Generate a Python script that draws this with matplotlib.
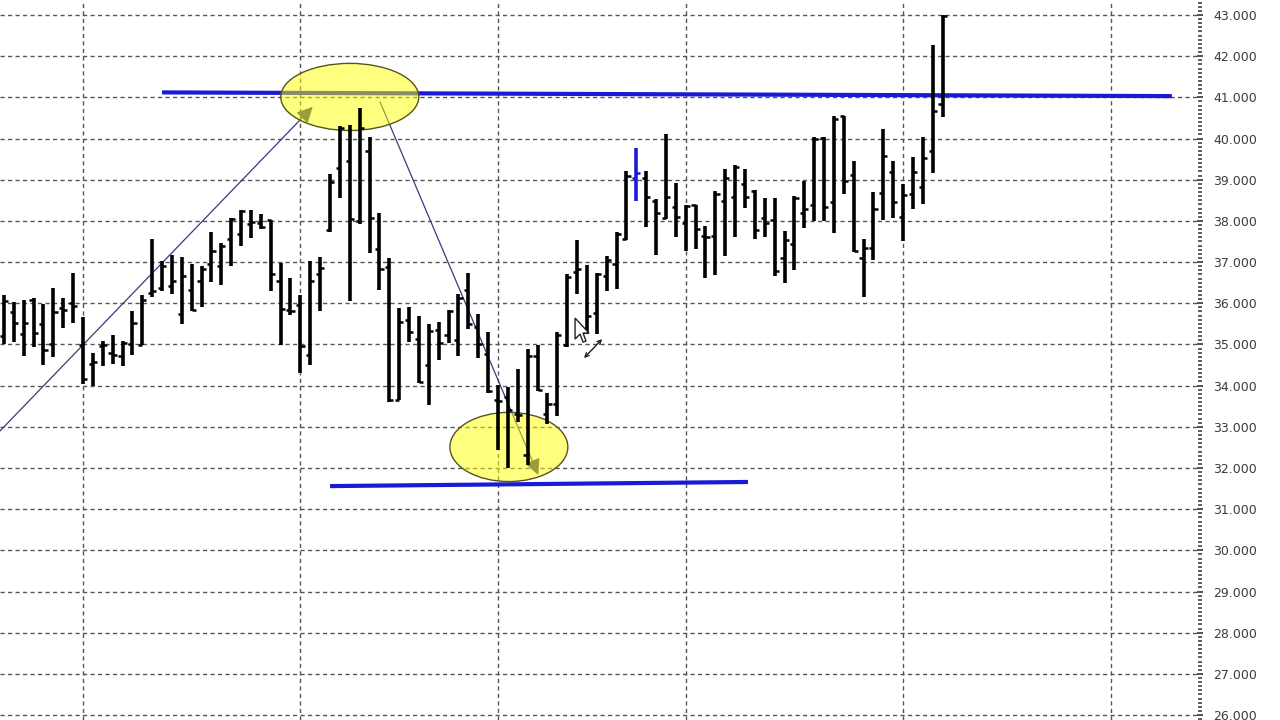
import numpy as np
import matplotlib
matplotlib.use("Agg")
import matplotlib.pyplot as plt
import matplotlib.transforms as mtransforms
from matplotlib.patches import Ellipse, Polygon, FancyArrowPatch
from matplotlib.ticker import FixedLocator, MultipleLocator, FormatStrFormatter

# daily bars (price units)
opens = [35.21, 35.78, 35.25, 36.08, 35.49, 35.02, 35.88, 36.00, 34.98, 34.53,
         34.96, 34.78, 34.73, 35.02, 34.98, 36.24, 36.38, 36.43, 35.73, 36.33,
         36.55, 36.96, 36.90, 37.55, 37.69, 37.93, 37.96, 38.02, 36.55, 35.84,
         35.96, 34.75, 36.72, 37.77, 39.29, 39.45, 38.00, 39.69, 37.31, 36.87,
         33.66, 35.60, 35.14, 34.49, 35.34, 35.22, 35.11, 36.31, 35.42, 34.77,
         33.65, 33.73, 33.32, 32.31, 34.73, 33.32, 33.55, 34.98, 36.77, 35.29,
         35.77, 36.66, 36.95, 37.55, 39.04, 39.04, 38.49, 38.08, 38.34, 37.96,
         38.39, 37.64, 37.64, 38.49, 38.57, 38.89, 38.73, 38.06, 38.02, 37.11,
         37.45, 38.20, 38.38, 40.02, 38.47, 40.55, 39.11, 37.09, 37.35, 38.68,
         39.19, 38.09, 38.66, 38.82, 39.70, 40.83]
highs = [36.20, 36.02, 36.08, 36.12, 35.98, 36.38, 36.12, 36.73, 35.67, 34.78,
         35.08, 35.22, 35.08, 35.81, 36.19, 37.55, 37.02, 37.17, 37.12, 36.96,
         36.90, 37.74, 37.47, 38.07, 38.26, 38.26, 38.16, 38.02, 36.98, 36.61,
         36.20, 37.02, 37.12, 39.15, 40.30, 40.34, 40.74, 40.03, 38.20, 37.10,
         35.89, 35.90, 35.70, 35.50, 35.54, 35.84, 36.23, 36.73, 35.74, 35.30,
         34.01, 33.97, 34.41, 34.90, 34.98, 33.81, 35.30, 36.71, 37.53, 36.93,
         36.74, 37.15, 37.72, 39.21, 39.77, 39.21, 38.53, 40.12, 38.91, 38.39,
         38.39, 37.88, 38.73, 39.26, 39.36, 39.26, 38.74, 38.55, 38.55, 37.75,
         38.60, 38.98, 40.04, 40.04, 40.55, 40.55, 39.45, 37.55, 38.71, 40.22,
         39.45, 38.90, 39.55, 40.04, 42.27, 43.00]
lows = [35.02, 35.06, 34.73, 34.94, 34.49, 34.69, 35.41, 35.51, 34.04, 33.98,
        34.47, 34.53, 34.47, 34.75, 34.98, 36.16, 36.30, 36.22, 35.49, 35.81,
        35.92, 36.51, 36.45, 36.90, 37.39, 37.58, 37.80, 36.30, 34.98, 35.71,
        34.31, 34.49, 35.82, 37.74, 38.56, 36.06, 37.92, 37.21, 36.31, 33.60,
        33.65, 35.06, 34.06, 33.52, 34.61, 35.03, 34.73, 35.38, 34.68, 33.81,
        32.44, 31.99, 33.12, 32.07, 33.87, 33.08, 33.26, 34.94, 36.23, 35.25,
        35.25, 36.30, 36.34, 37.53, 38.49, 37.85, 37.17, 38.04, 37.61, 37.27,
        37.31, 36.62, 36.69, 37.15, 37.61, 38.31, 37.55, 37.61, 36.66, 36.50,
        36.80, 37.82, 38.00, 38.00, 37.71, 38.66, 37.25, 36.15, 37.06, 38.01,
        38.06, 37.51, 38.30, 38.42, 39.17, 40.52]
closes = [36.06, 35.51, 35.51, 35.27, 34.86, 35.78, 35.84, 35.94, 34.16, 34.57,
          34.98, 34.75, 35.04, 35.51, 36.08, 36.29, 36.90, 36.55, 36.65, 35.84,
          36.82, 37.27, 37.39, 38.04, 38.23, 37.98, 37.84, 36.71, 35.86, 35.81,
          34.96, 36.53, 36.86, 38.95, 40.26, 38.04, 40.26, 38.08, 36.83, 33.65,
          35.54, 35.30, 34.09, 35.32, 35.03, 35.82, 36.13, 35.50, 35.02, 33.87,
          33.63, 33.40, 33.28, 34.73, 33.89, 33.56, 35.22, 36.63, 36.83, 35.69,
          36.70, 37.04, 37.68, 39.09, 39.17, 38.58, 38.20, 38.58, 38.10, 38.36,
          37.80, 37.61, 38.65, 39.04, 39.30, 38.57, 37.77, 37.94, 36.79, 37.53,
          38.55, 38.30, 39.98, 38.34, 40.47, 38.98, 37.27, 37.35, 38.28, 39.57,
          38.47, 38.64, 39.19, 39.53, 40.68, 42.98]
highlighted_bar = 64          # the one bar drawn in blue
month_starts = [8, 30, 50, 69, 91, 112]
price_ticks = list(range(26, 44))

# drawn objects on the chart (bar index, price)
resistance = ([16.0, 118.2], [41.12, 41.03])
support = ([33.0, 75.3], [31.56, 31.66])
top_circle = (35.0, 41.01, 13.97, 1.63)
bottom_circle = (51.1, 32.51, 11.94, 1.68)
arrow_up = ((-1.0, 32.75), (31.25, 40.77))
arrow_down = ((38.06, 40.89), (54.08, 31.83))
cursor_at = (57.8, 35.64)

BLUE = "#1a1ad6"
NAVY = "#3a3a7a"

fig = plt.figure(figsize=(12.8, 7.2), dpi=100)
ax = fig.add_axes([0, 0, 1200 / 1280, 1])
ax.set_xlim(-0.4, 121.05)
ax.set_ylim(25.88, 43.364)

# grid
ax.xaxis.set_major_locator(FixedLocator(month_starts))
ax.yaxis.set_major_locator(FixedLocator(price_ticks))
ax.yaxis.set_minor_locator(MultipleLocator(0.1))
ax.grid(True, which="major", color="#555555", linestyle=(0, (3, 2.4)), linewidth=1.0, zorder=0)
ax.set_axisbelow(True)
for s in ax.spines.values():
    s.set_visible(False)
ax.tick_params(axis="x", length=0, labelbottom=False)
ax.yaxis.tick_right()
ax.yaxis.set_major_formatter(FormatStrFormatter("%.3f"))
ax.tick_params(axis="y", which="major", direction="inout", length=5, width=1.2,
               color="#333333", pad=7, labelsize=9, labelcolor="#3c3c3c")
ax.tick_params(axis="y", which="minor", direction="inout", length=3, width=1.1, color="#333333")

# OHLC bars
x = np.arange(len(opens))
cols = ["black"] * len(opens)
cols[highlighted_bar] = BLUE
tick = 0.42
ax.vlines(x, lows, highs, colors=cols, linewidth=2.6, zorder=4)
ax.hlines(opens, x - tick, x, colors=cols, linewidth=1.8, zorder=4)
ax.hlines(closes, x, x + tick, colors=cols, linewidth=1.8, zorder=4)

# support / resistance lines
ax.plot(*resistance, color=BLUE, linewidth=3.0, solid_capstyle="butt", zorder=2)
ax.plot(*support, color=BLUE, linewidth=3.0, solid_capstyle="butt", zorder=2)

# arrows
for start, end in (arrow_up, arrow_down):
    ax.annotate("", xy=end, xytext=start, annotation_clip=False,
                arrowprops=dict(arrowstyle="-|>", color=NAVY, lw=0.9,
                                mutation_scale=24, shrinkA=0, shrinkB=0),
                zorder=2)

# highlight ellipses
for cx, cy, w, h in (top_circle, bottom_circle):
    ax.add_patch(Ellipse((cx, cy), w, h, facecolor=(1, 1, 0, 0.5),
                         edgecolor="#55551f", linewidth=1.0, zorder=3))

# mouse pointer left on the screen
tr = mtransforms.Affine2D() + mtransforms.ScaledTranslation(cursor_at[0], cursor_at[1], ax.transData)
pointer = [(0, 0), (0, -21), (5, -16), (8, -24), (11, -23), (8, -15), (14, -15)]
ax.add_patch(Polygon(pointer, closed=True, facecolor="white", edgecolor="#222222",
                     linewidth=1.0, transform=tr, zorder=6))
ax.add_patch(FancyArrowPatch((7, -42), (29, -19), arrowstyle="<->", mutation_scale=7,
                             color="#222222", linewidth=1.0, transform=tr, zorder=6))

fig.savefig("out.png", dpi=100)
